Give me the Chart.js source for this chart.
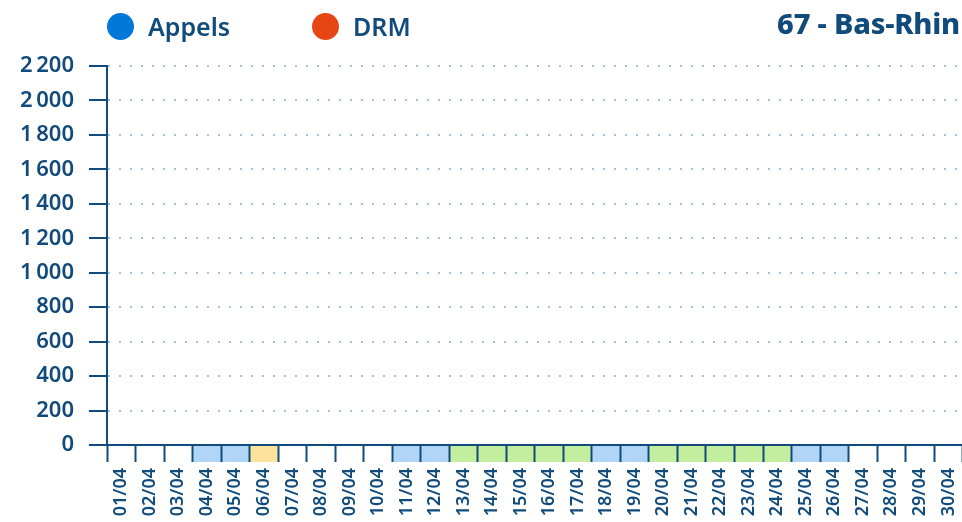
<!DOCTYPE html>
<html lang="fr">
<head>
<meta charset="utf-8">
<script src="https://cdn.jsdelivr.net/npm/chart.js@4/dist/chart.umd.min.js"></script>
<style>
    html, body { margin: 0; padding: 0; background: #fff; overflow: hidden; }
    body { width: 962px; height: 522px; position: relative; font-family: "Noto Sans", sans-serif; color: #114b7b; }
    .chart-wrap { position: absolute; left: 0; top: 0; width: 976px; height: 522px; }
    .legend__item { position: absolute; top: 9px; display: flex; align-items: center; font-size: 25px; font-weight: 600; }
    .legend__dot { width: 27px; height: 27px; border-radius: 50%; margin-right: 14px; }
    .title { position: absolute; right: 2px; top: 3px; font-size: 29px; font-weight: 800; letter-spacing: -0.2px; }
</style>
</head>
<body>
<div class="chart-wrap"><canvas id="chart"></canvas></div>
<div id="legend"></div>
<div class="title">67 - Bas-Rhin</div>
<script>
const TEXT_COLOR = '#114b7b';

const days = [
    '01/04', '02/04', '03/04', '04/04', '05/04', '06/04', '07/04', '08/04', '09/04', '10/04',
    '11/04', '12/04', '13/04', '14/04', '15/04', '16/04', '17/04', '18/04', '19/04', '20/04',
    '21/04', '22/04', '23/04', '24/04', '25/04', '26/04', '27/04', '28/04', '29/04', '30/04',
];

// no value drawn for the month
const appels = [
    null, null, null, null, null, null, null, null, null, null,
    null, null, null, null, null, null, null, null, null, null,
    null, null, null, null, null, null, null, null, null, null,
];
const drm = [
    null, null, null, null, null, null, null, null, null, null,
    null, null, null, null, null, null, null, null, null, null,
    null, null, null, null, null, null, null, null, null, null,
];

// strip under the axis: '' = nothing, w = week-end, f = férié, v = vacances
const dayType = [
    '', '', '', 'w', 'w', 'f', '', '', '', '',
    'w', 'w', 'v', 'v', 'v', 'v', 'v', 'w', 'w', 'v',
    'v', 'v', 'v', 'v', 'w', 'w', '', '', '', '',
];

const STRIP_COLOR = {
    w: '#b1d5f7',
    f: '#fde29c',
    v: '#c3ed9f',
};

const series = [
    { label: 'Appels', data: appels, color: '#0078d7' },
    { label: 'DRM',    data: drm,    color: '#e84515' },
];

function fmt(v) {
    return String(v).replace(/\B(?=(\d{3})+(?!\d))/g, '\u202f');
}

const dayStrip = {
    id: 'dayStrip',
    beforeDraw(chart) {
        const x   = chart.scales.x;
        const ctx = chart.ctx;
        const top = chart.chartArea.bottom;
        const h   = x.options.grid.tickLength;
        const half = (x.getPixelForValue(1) - x.getPixelForValue(0)) / 2;
        ctx.save();
        dayType.forEach((t, i) => {
            if (!t) return;
            const cx = x.getPixelForValue(i);
            ctx.fillStyle = STRIP_COLOR[t];
            ctx.fillRect(cx - half, top, half * 2, h);
        });
        ctx.restore();
    },
};

function buildLegend() {
    const box = document.getElementById('legend');
    const lefts = [107, 312];
    series.forEach((s, i) => {
        const item = document.createElement('div');
        item.className = 'legend__item';
        item.style.left = lefts[i] + 'px';
        item.innerHTML = `<span class="legend__dot" style="background:${s.color}"></span>${s.label}`;
        box.appendChild(item);
    });
}

buildLegend();

new Chart(document.getElementById('chart'), {
    type: 'line',
    data: {
        labels: days,
        datasets: series.map(s => ({
            label:           s.label,
            data:            s.data,
            borderColor:     s.color,
            backgroundColor: s.color,
            borderWidth:     2,
            pointRadius:     0,
        })),
    },
    options: {
        responsive:          true,
        maintainAspectRatio: false,
        animation:           false,
        layout: { padding: { top: 66, right: 0, bottom: 0, left: 0 } },
        plugins: {
            legend:  { display: false },
            tooltip: { enabled: false },
        },
        scales: {
            x: {
                offset: true,
                grid: {
                    offset:          true,
                    drawOnChartArea: false,
                    drawTicks:       true,
                    tickLength:      17,
                    tickColor:       TEXT_COLOR,
                    tickWidth:       2,
                },
                border: { color: TEXT_COLOR, width: 2 },
                ticks: {
                    color:       TEXT_COLOR,
                    font:        { family: 'Noto Sans', size: 18, weight: '600' },
                    minRotation: 90,
                    maxRotation: 90,
                    padding:     6,
                    autoSkip:    false,
                },
                afterFit: s => { s.height = 77; },
            },
            y: {
                min: 0,
                max: 2200,
                grid: {
                    color:          '#a9c3d6',
                    lineWidth:      2,
                    drawTicks:      true,
                    tickLength:     18,
                    tickColor:      TEXT_COLOR,
                    tickWidth:      2,
                    tickBorderDash: [],
                },
                border: { color: TEXT_COLOR, width: 2, dash: [2, 9] },
                ticks: {
                    stepSize: 200,
                    color:    TEXT_COLOR,
                    font:     { family: 'Noto Sans', size: 22, weight: '600' },
                    padding:  15,
                    callback: v => fmt(v),
                },
                afterFit: s => { s.width = 107; },
            },
        },
    },
    plugins: [dayStrip],
});
</script>
</body>
</html>
